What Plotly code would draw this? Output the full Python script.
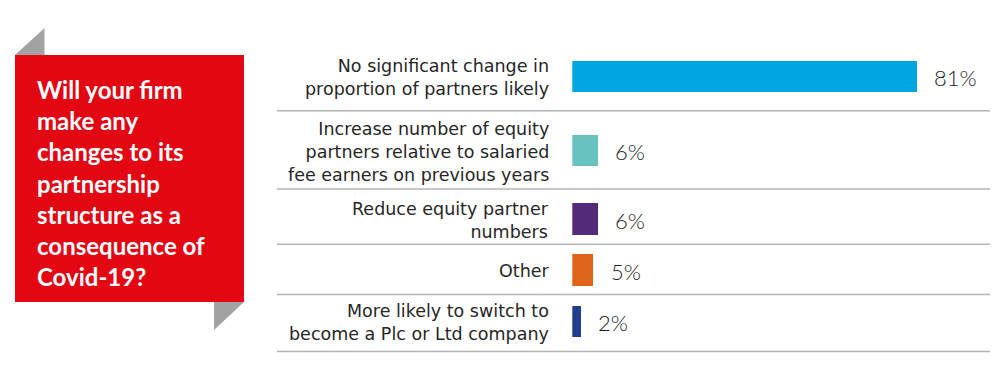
import plotly.graph_objects as go

# ---- data ----
categories = [
    "No significant change in<br>proportion of partners likely",
    "Increase number of equity<br>partners relative to salaried<br>fee earners on previous years",
    "Reduce equity partner<br>numbers",
    "Other",
    "More likely to switch to<br>become a Plc or Ltd company",
]
values = [81, 6, 6, 5, 2]
question = "Will your firm<br>make any<br>changes to its<br>partnership<br>structure as a<br>consequence of<br>Covid-19?"

# ---- style / layout ----
bar_colors = ["#00a6e2", "#68c2bf", "#532a7a", "#e0641a", "#1f3f8e"]
W, H = 1004, 391
row_y = [76.5, 150.5, 219, 270, 321.5]       # row centres (px from top)
sep_y = [110.7, 189, 244.3, 294.5, 351.5]    # separator lines (px from top)
bar_x0 = 572.3
px_per_pct = 4.26


def px(x):
    return x / W


def py(y):
    return 1 - y / H


fig = go.Figure()
fig.add_trace(go.Bar(
    orientation="h",
    x=values,
    y=row_y,
    width=31.5,
    marker=dict(color=bar_colors, line=dict(width=0)),
    hoverinfo="skip",
))

shapes = []
# gray folded corners
shapes.append(dict(type="path", xref="paper", yref="paper",
                   path=f"M {px(15)} {py(55)} L {px(44.5)} {py(28)} L {px(44.5)} {py(55)} Z",
                   fillcolor="#a3a3a3", line=dict(width=0), layer="below"))
shapes.append(dict(type="path", xref="paper", yref="paper",
                   path=f"M {px(214)} {py(302)} L {px(244)} {py(302)} L {px(214)} {py(330)} Z",
                   fillcolor="#a3a3a3", line=dict(width=0), layer="below"))
# red box
shapes.append(dict(type="rect", xref="paper", yref="paper",
                   x0=px(15), x1=px(244), y0=py(302), y1=py(55),
                   fillcolor="#e30613", line=dict(width=0), layer="below"))
# separators
for y in sep_y:
    shapes.append(dict(type="line", xref="paper", yref="y",
                       x0=px(277), x1=px(990), y0=y, y1=y,
                       line=dict(color="#b4b4b4", width=1.5), layer="below"))

annotations = []
annotations.append(dict(
    xref="paper", yref="y", x=px(35), y=(88 + 277) / 2,
    xanchor="left", yanchor="middle", align="left", showarrow=False,
    text="<b>" + question.replace("<br>", "</b><br><b>") + "</b>",
    font=dict(family="Lato", size=24, color="white", weight=700),
))
for cat, y in zip(categories, row_y):
    annotations.append(dict(
        xref="paper", yref="y", x=px(551), y=y + 1,
        xanchor="right", yanchor="middle", align="right", showarrow=False,
        text=cat, font=dict(family="DejaVu Sans", size=17.5, color="#262626"),
    ))
for v, y in zip(values, row_y):
    annotations.append(dict(
        xref="x", yref="y", x=v, y=y + 1, xshift=15,
        xanchor="left", yanchor="middle", showarrow=False,
        text=f"{v}%", font=dict(family="Lato", size=22, color="#1e1e1e", weight=300),
    ))

fig.update_layout(
    width=W, height=H,
    margin=dict(l=0, r=0, t=0, b=0),
    paper_bgcolor="white", plot_bgcolor="white",
    showlegend=False,
    shapes=shapes, annotations=annotations,
    bargap=0,
    xaxis=dict(domain=[bar_x0 / W, 1], range=[0, (W - bar_x0) / px_per_pct],
               visible=False, fixedrange=True),
    yaxis=dict(domain=[0, 1], range=[H, 0], visible=False, fixedrange=True),
)

fig.write_html(
    "out.html",
    config=dict(displayModeBar=False),
    post_script="document.body.style.margin='0';document.body.style.overflow='hidden';",
)
